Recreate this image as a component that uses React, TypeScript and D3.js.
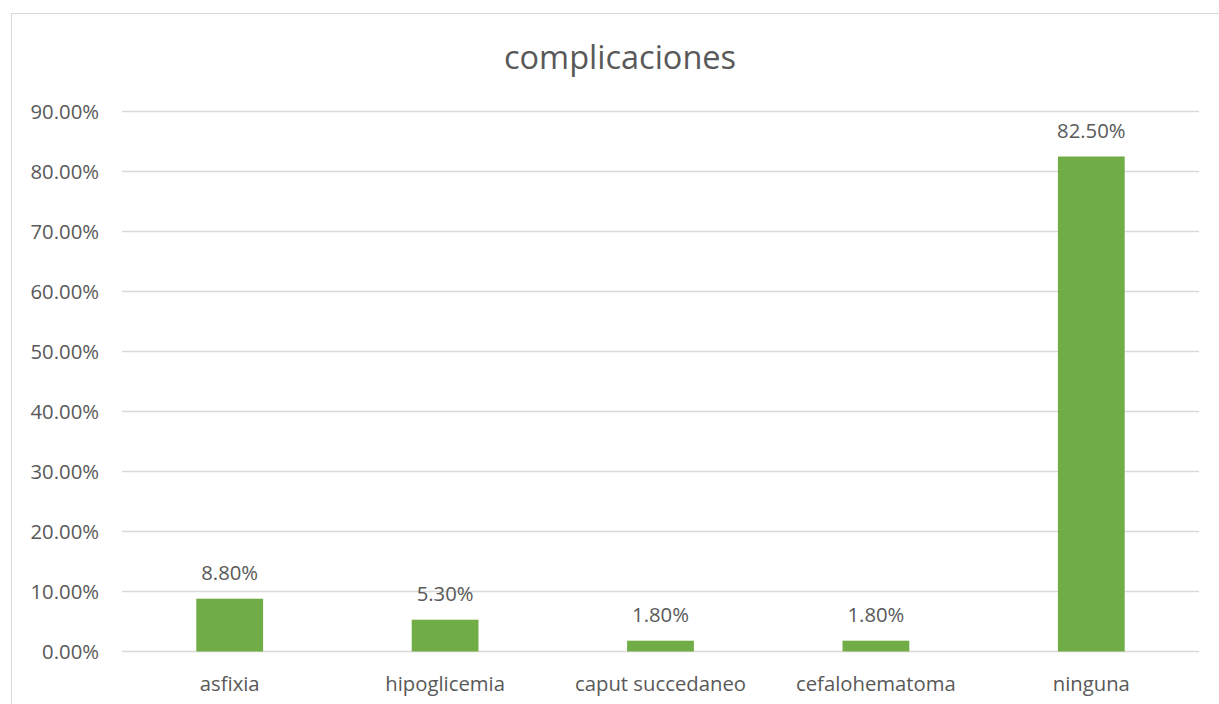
import React from "react";
import * as d3 from "d3";

const categories = ["asfixia", "hipoglicemia", "caput succedaneo", "cefalohematoma", "ninguna"];
const values = [0.088, 0.053, 0.018, 0.018, 0.825];
const yTicks = [0, 0.1, 0.2, 0.3, 0.4, 0.5, 0.6, 0.7, 0.8, 0.9];
const title = "complicaciones";

const W = 1219;
const H = 704;
const plot = { left: 122, right: 1199, top: 111.5, bottom: 651.5 };
const FONT = "'Open Sans', sans-serif";
const TXT = "#595959";
const FS = 20.3;

export default function App() {
  const x = d3.scaleBand<string>().domain(categories).range([plot.left, plot.right]).paddingInner(0.69).paddingOuter(0.345);
  const y = d3.scaleLinear().domain([0, 0.9]).range([plot.bottom, plot.top]);
  const fmt = (v: number) => (v * 100).toFixed(2) + "%";
  return (
    <svg width={W} height={H} style={{ position: "fixed", left: 0, top: 0, background: "#fff" }}>
      <rect x={0} y={0} width={W} height={H} fill="#fff" />
      <rect x={11.5} y={13.5} width={W + 10} height={H + 10} fill="none" stroke="#d9d9d9" strokeWidth={1} />
      <text x={620} y={56.5} textAnchor="middle" dominantBaseline="central" fontFamily={FONT} fontSize={32.5} fill={TXT}>
        {title}
      </text>
      {yTicks.map((t) => (
        <g key={t}>
          <line x1={plot.left} x2={plot.right} y1={y(t)} y2={y(t)} stroke="#d9d9d9" strokeWidth={1.3} />
          <text x={99} y={y(t) - 1} textAnchor="end" dominantBaseline="central" fontFamily={FONT} fontSize={FS} fill={TXT}>
            {fmt(t)}
          </text>
        </g>
      ))}
      {categories.map((c, i) => (
        <g key={c}>
          <rect x={x(c)} y={y(values[i])} width={x.bandwidth()} height={plot.bottom - y(values[i])} fill="#70ad47" />
          <text x={(x(c) as number) + x.bandwidth() / 2} y={y(values[i]) - 26.5} textAnchor="middle" dominantBaseline="central" fontFamily={FONT} fontSize={FS} fill={TXT}>
            {fmt(values[i])}
          </text>
          <text x={(x(c) as number) + x.bandwidth() / 2} y={683} textAnchor="middle" dominantBaseline="central" fontFamily={FONT} fontSize={FS} fill={TXT}>
            {c}
          </text>
        </g>
      ))}
    </svg>
  );
}
